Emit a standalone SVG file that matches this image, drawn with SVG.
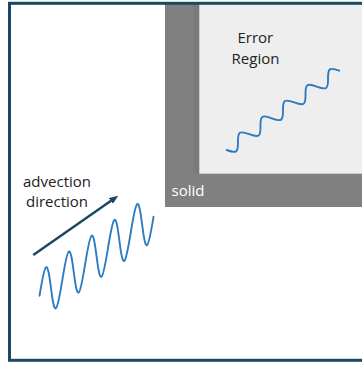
<svg xmlns="http://www.w3.org/2000/svg" width="362" height="365" viewBox="0 0 362 365">
  <style>
    .lbl { font-family: "Open Sans", "Liberation Sans", sans-serif; font-size: 15px; }
    .dark { fill: #222222; }
    .white { fill: #ffffff; }
    .wave { fill: none; stroke: #2e7bc0; stroke-width: 1.9; vector-effect: non-scaling-stroke; stroke-linecap: round; stroke-linejoin: round; }
    .frame { fill: none; stroke: #1a4862; stroke-width: 3; }
    .arrow { fill: none; stroke: #1a4862; stroke-width: 2.5; }
  </style>
  <defs>
    <marker id="ah" markerUnits="userSpaceOnUse" markerWidth="9" markerHeight="7" refX="4.5" refY="3.5" orient="auto">
      <path d="M0,0 L9,3.5 L0,7 z" fill="#1a4862"/>
    </marker>
  </defs>
  <rect width="362" height="365" fill="#ffffff"/>

  <g id="solid">
    <rect x="165" y="4" width="200" height="203" fill="#808080"/>
    <rect x="193.5" y="4" width="6" height="170" fill="#7a7a7a"/>
    <text class="lbl white" x="171.5" y="196">solid</text>
  </g>

  <g id="error-region">
    <rect x="199.3" y="4" width="165" height="169.7" fill="#eeeeee"/>
    <text class="lbl dark" x="255.3" y="43.3" text-anchor="middle">Error</text>
    <text class="lbl dark" x="255.5" y="63.5" text-anchor="middle">Region</text>
    <path class="wave" transform="matrix(22.52 -15.86 -3.743 -5.315 226.7 150)" d="M0 0 C0.08153 -0.51229 0.15952 -1 0.25 -1 S0.41847 -0.51229 0.5 0 S0.65952 1 0.75 1 S0.91847 0.51229 1 0 S1.15952 -1 1.25 -1 S1.41847 -0.51229 1.5 0 S1.65952 1 1.75 1 S1.91847 0.51229 2 0 S2.15952 -1 2.25 -1 S2.41847 -0.51229 2.5 0 S2.65952 1 2.75 1 S2.91847 0.51229 3 0 S3.15952 -1 3.25 -1 S3.41847 -0.51229 3.5 0 S3.65952 1 3.75 1 S3.91847 0.51229 4 0 S4.15952 -1 4.25 -1 S4.41847 -0.51229 4.5 0 S4.65952 1 4.75 1 S4.91847 0.51229 5 0"/>
  </g>

  <g id="frame">
    <rect class="frame" x="9.5" y="3.3" width="400" height="357"/>
  </g>

  <g id="advection-label">
    <text class="lbl dark" x="57" y="186.5" text-anchor="middle">advection</text>
    <text class="lbl dark" x="57" y="206.5" text-anchor="middle">direction</text>
  </g>

  <g id="incoming-wave">
    <path class="wave" transform="matrix(22.8 -15.8 -0.75 24.45 45.25 291.75)" d="M-0.25 0 C-0.16847 -0.51229 -0.09048 -1 0 -1 S0.16847 -0.51229 0.25 0 S0.40952 1 0.5 1 S0.66847 0.51229 0.75 0 S0.90952 -1 1 -1 S1.16847 -0.51229 1.25 0 S1.40952 1 1.5 1 S1.66847 0.51229 1.75 0 S1.90952 -1 2 -1 S2.16847 -0.51229 2.25 0 S2.40952 1 2.5 1 S2.66847 0.51229 2.75 0 S2.90952 -1 3 -1 S3.16847 -0.51229 3.25 0 S3.40952 1 3.5 1 S3.66847 0.51229 3.75 0 S3.90952 -1 4 -1 S4.16847 -0.51229 4.25 0 S4.40952 1 4.5 1 S4.66847 0.51229 4.75 0"/>
  </g>

  <g id="connectors">
    <line class="arrow" x1="33.3" y1="255" x2="114.6" y2="198.3" marker-end="url(#ah)"/>
  </g>
</svg>
